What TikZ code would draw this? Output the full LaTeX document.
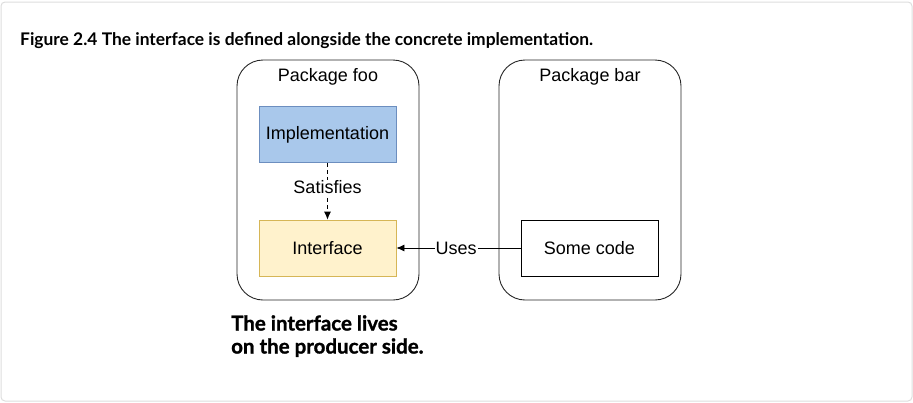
\documentclass[tikz,border=0pt]{standalone}
\usepackage{fontspec}
\setmainfont{Liberation Sans}
\newfontfamily\latofont{Lato}
\newfontfamily\latoheavy{Lato}[BoldFeatures={FakeBold=1.3}]
\usetikzlibrary{arrows.meta}
\definecolor{implfill}{HTML}{A9C8EB}
\definecolor{impldraw}{HTML}{6C8EBF}
\definecolor{intffill}{HTML}{FFF2CC}
\definecolor{intfdraw}{HTML}{D6B656}
\definecolor{framegray}{HTML}{DDDDDD}
\begin{document}
\begin{tikzpicture}[x=1pt,y=-1pt,
  pkg/.style={draw=black!85,line width=0.9pt,rounded corners=26pt},
  box/.style={draw,line width=0.8pt,minimum width=137pt,minimum height=56pt,inner sep=0pt,font=\fontsize{18}{21}\selectfont},
  lbl/.style={font=\fontsize{18}{21}\selectfont,inner sep=1pt},
  conn/.style={line width=0.8pt,-{Latex[length=8pt,width=7pt]}},
  notetext/.style={anchor=base west,inner sep=0pt,font=\latoheavy\bfseries\fontsize{20.5}{22.5}\selectfont}]
\useasboundingbox (0,0) rectangle (913,402);
\draw[framegray,line width=1pt,rounded corners=4pt] (1,2) rectangle (912,401);
\node[anchor=base west,inner sep=0pt,font=\latofont\bfseries\fontsize{17.4}{20}\selectfont] (cap) at (20,45.5) {Figure 2.4 The interface is defined alongside the concrete implementation.};
\draw[pkg] (237,60) rectangle (419,300);
\draw[pkg] (499,60) rectangle (681,300);
\node[lbl] (foo) at (328,77) {Package foo};
\node[lbl] (bar) at (590,77) {Package bar};
\node[box,fill=implfill,draw=impldraw] (impl) at (327.5,134.5) {Implementation};
\node[box,fill=intffill,draw=intfdraw] (intf) at (327.5,248) {Interface};
\node[box,fill=white,draw=black] (code) at (589.5,248) {Some code};
\draw[conn,dashed,dash pattern=on 4pt off 3pt] (impl) -- node[lbl,fill=white,pos=0.43] {Satisfies} (intf);
\draw[conn] (code) -- node[lbl,fill=white,pos=0.52] {Uses} (intf);
\node[notetext] (note1) at (231,330.5) {The interface lives};
\node[notetext] (note2) at (231,353.5) {on the producer side.};
\end{tikzpicture}
\end{document}
